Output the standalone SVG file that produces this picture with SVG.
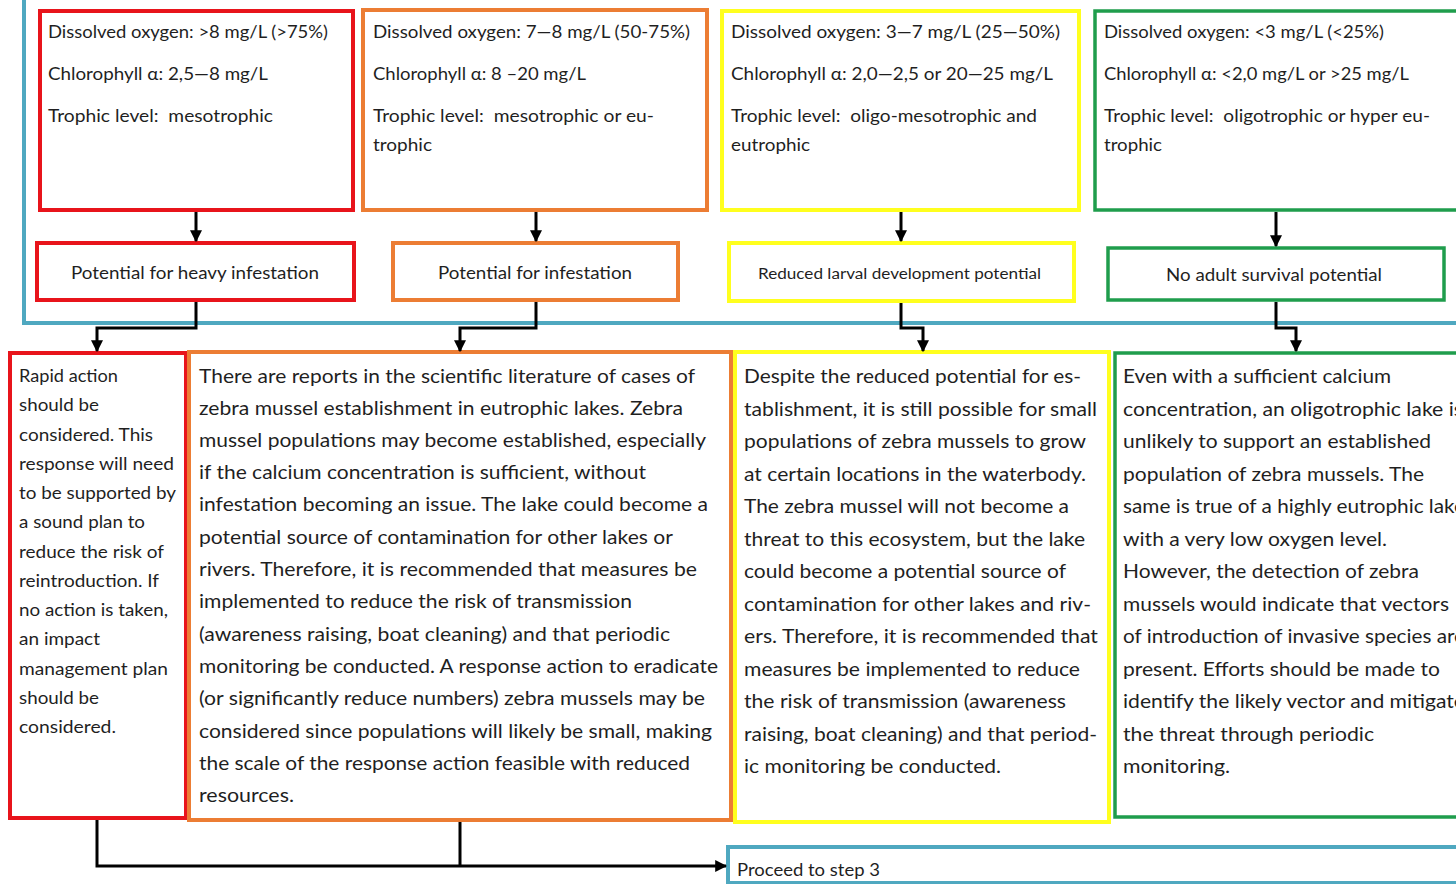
<svg xmlns="http://www.w3.org/2000/svg" width="1456" height="884" viewBox="0 0 1456 884">
<style>
text{font-family:Lato,"Liberation Sans",sans-serif;fill:#1f1f1f}
.t{font-size:16.5px}
.b{font-size:20px}
.s{font-size:17px}
.box{fill:#fff;stroke-width:4}
.red{stroke:#e8141b}
.org{stroke:#ec7d34}
.yel{stroke:#ffff1e}
.grn{stroke:#1f9d4c;stroke-width:3.5}
.blu{fill:none;stroke:#4fa8c0;stroke-width:4}
.con{fill:none;stroke:#000;stroke-width:3}
.c{text-anchor:middle}
</style>
<defs>
<marker id="ah" viewBox="0 0 10 10" refX="9" refY="5" markerWidth="4" markerHeight="4" markerUnits="strokeWidth" orient="auto">
<path d="M0,0 L10,5 L0,10 z" fill="#000"/>
</marker>
</defs>
<rect id="frame" class="blu" x="24" y="-10" width="1460" height="333"/>

<g id="top-red"><rect class="box red" x="40" y="11" width="313" height="199"/>
<text class="t" x="48" y="38" textLength="280" lengthAdjust="spacingAndGlyphs">Dissolved oxygen: &gt;8 mg/L (&gt;75%)</text>
<text class="t" x="48" y="80" textLength="220" lengthAdjust="spacingAndGlyphs">Chlorophyll α: 2,5—8 mg/L</text>
<text class="t" x="48" y="122" textLength="225" lengthAdjust="spacingAndGlyphs">Trophic level: &#160;mesotrophic</text></g>

<g id="top-orange"><rect class="box org" x="363" y="10" width="344" height="200"/>
<text class="t" x="373" y="38" textLength="317" lengthAdjust="spacingAndGlyphs">Dissolved oxygen: 7—8 mg/L (50-75%)</text>
<text class="t" x="373" y="80" textLength="213" lengthAdjust="spacingAndGlyphs">Chlorophyll α: 8 –20 mg/L</text>
<text class="t" x="373" y="122" textLength="281" lengthAdjust="spacingAndGlyphs">Trophic level: &#160;mesotrophic or eu-</text>
<text class="t" x="373" y="151" textLength="59" lengthAdjust="spacingAndGlyphs">trophic</text></g>

<g id="top-yellow"><rect class="box yel" x="722" y="11" width="357" height="199"/>
<text class="t" x="731" y="38" textLength="329" lengthAdjust="spacingAndGlyphs">Dissolved oxygen: 3—7 mg/L (25—50%)</text>
<text class="t" x="731" y="80" textLength="322" lengthAdjust="spacingAndGlyphs">Chlorophyll α: 2,0—2,5 or 20—25 mg/L</text>
<text class="t" x="731" y="122" textLength="306" lengthAdjust="spacingAndGlyphs">Trophic level: &#160;oligo-mesotrophic and</text>
<text class="t" x="731" y="151" textLength="79" lengthAdjust="spacingAndGlyphs">eutrophic</text></g>

<g id="top-green"><rect class="box grn" x="1095" y="11" width="370" height="199"/>
<text class="t" x="1104" y="38" textLength="280" lengthAdjust="spacingAndGlyphs">Dissolved oxygen: &lt;3 mg/L (&lt;25%)</text>
<text class="t" x="1104" y="80" textLength="305" lengthAdjust="spacingAndGlyphs">Chlorophyll α: &lt;2,0 mg/L or &gt;25 mg/L</text>
<text class="t" x="1104" y="122" textLength="326" lengthAdjust="spacingAndGlyphs">Trophic level: &#160;oligotrophic or hyper eu-</text>
<text class="t" x="1104" y="151" textLength="58" lengthAdjust="spacingAndGlyphs">trophic</text></g>

<g id="mid-red"><rect class="box red" x="37" y="243" width="317" height="57"/>
<text class="t" x="71" y="279" textLength="248" lengthAdjust="spacingAndGlyphs">Potential for heavy infestation</text></g>
<g id="mid-orange"><rect class="box org" x="393" y="243" width="285" height="57"/>
<text class="t" x="438" y="279" textLength="194" lengthAdjust="spacingAndGlyphs">Potential for infestation</text></g>
<g id="mid-yellow"><rect class="box yel" x="729" y="243" width="345" height="58"/>
<text class="t" x="758" y="279" style="font-size:15.5px" textLength="283" lengthAdjust="spacingAndGlyphs">Reduced larval development potential</text></g>
<g id="mid-green"><rect class="box grn" x="1108" y="248" width="336" height="52"/>
<text class="t" x="1166" y="281" textLength="216" lengthAdjust="spacingAndGlyphs">No adult survival potential</text></g>

<g id="bot-red"><rect class="box red" x="10" y="353" width="176" height="465"/>
<text class="s" x="19" y="382" textLength="99" lengthAdjust="spacingAndGlyphs">Rapid action</text>
<text class="s" x="19" y="411" textLength="80" lengthAdjust="spacingAndGlyphs">should be</text>
<text class="s" x="19" y="440.5" textLength="134" lengthAdjust="spacingAndGlyphs">considered. This</text>
<text class="s" x="19" y="470" textLength="155" lengthAdjust="spacingAndGlyphs">response will need</text>
<text class="s" x="19" y="499" textLength="157" lengthAdjust="spacingAndGlyphs">to be supported by</text>
<text class="s" x="19" y="528" textLength="126" lengthAdjust="spacingAndGlyphs">a sound plan to</text>
<text class="s" x="19" y="557.5" textLength="145" lengthAdjust="spacingAndGlyphs">reduce the risk of</text>
<text class="s" x="19" y="587" textLength="140" lengthAdjust="spacingAndGlyphs">reintroduction. If</text>
<text class="s" x="19" y="616" textLength="149" lengthAdjust="spacingAndGlyphs">no action is taken,</text>
<text class="s" x="19" y="645" textLength="81" lengthAdjust="spacingAndGlyphs">an impact</text>
<text class="s" x="19" y="674.5" textLength="149" lengthAdjust="spacingAndGlyphs">management plan</text>
<text class="s" x="19" y="704" textLength="80" lengthAdjust="spacingAndGlyphs">should be</text>
<text class="s" x="19" y="733" textLength="97" lengthAdjust="spacingAndGlyphs">considered.</text></g>

<g id="bot-orange"><rect class="box org" x="189" y="352" width="542" height="468"/>
<text class="b" x="199" y="383" textLength="496" lengthAdjust="spacingAndGlyphs">There are reports in the scientific literature of cases of</text>
<text class="b" x="199" y="415" textLength="484" lengthAdjust="spacingAndGlyphs">zebra mussel establishment in eutrophic lakes. Zebra</text>
<text class="b" x="199" y="447" textLength="507" lengthAdjust="spacingAndGlyphs">mussel populations may become established, especially</text>
<text class="b" x="199" y="479" textLength="447" lengthAdjust="spacingAndGlyphs">if the calcium concentration is sufficient, without</text>
<text class="b" x="199" y="511" textLength="509" lengthAdjust="spacingAndGlyphs">infestation becoming an issue. The lake could become a</text>
<text class="b" x="199" y="544" textLength="474" lengthAdjust="spacingAndGlyphs">potential source of contamination for other lakes or</text>
<text class="b" x="199" y="576" textLength="498" lengthAdjust="spacingAndGlyphs">rivers. Therefore, it is recommended that measures be</text>
<text class="b" x="199" y="608" textLength="433" lengthAdjust="spacingAndGlyphs">implemented to reduce the risk of transmission</text>
<text class="b" x="199" y="641" textLength="471" lengthAdjust="spacingAndGlyphs">(awareness raising, boat cleaning) and that periodic</text>
<text class="b" x="199" y="673" textLength="519" lengthAdjust="spacingAndGlyphs">monitoring be conducted. A response action to eradicate</text>
<text class="b" x="199" y="705" textLength="506" lengthAdjust="spacingAndGlyphs">(or significantly reduce numbers) zebra mussels may be</text>
<text class="b" x="199" y="738" textLength="513" lengthAdjust="spacingAndGlyphs">considered since populations will likely be small, making</text>
<text class="b" x="199" y="770" textLength="491" lengthAdjust="spacingAndGlyphs">the scale of the response action feasible with reduced</text>
<text class="b" x="199" y="802" textLength="95" lengthAdjust="spacingAndGlyphs">resources.</text></g>

<g id="bot-yellow"><rect class="box yel" x="735" y="352" width="374" height="470"/>
<text class="b" x="744" y="383" textLength="337" lengthAdjust="spacingAndGlyphs">Despite the reduced potential for es-</text>
<text class="b" x="744" y="415.5" textLength="353" lengthAdjust="spacingAndGlyphs">tablishment, it is still possible for small</text>
<text class="b" x="744" y="448" textLength="342" lengthAdjust="spacingAndGlyphs">populations of zebra mussels to grow</text>
<text class="b" x="744" y="480.5" textLength="342" lengthAdjust="spacingAndGlyphs">at certain locations in the waterbody.</text>
<text class="b" x="744" y="513" textLength="325" lengthAdjust="spacingAndGlyphs">The zebra mussel will not become a</text>
<text class="b" x="744" y="545.5" textLength="341" lengthAdjust="spacingAndGlyphs">threat to this ecosystem, but the lake</text>
<text class="b" x="744" y="578" textLength="322" lengthAdjust="spacingAndGlyphs">could become a potential source of</text>
<text class="b" x="744" y="610.5" textLength="347" lengthAdjust="spacingAndGlyphs">contamination for other lakes and riv-</text>
<text class="b" x="744" y="643" textLength="354" lengthAdjust="spacingAndGlyphs">ers. Therefore, it is recommended that</text>
<text class="b" x="744" y="675.5" textLength="336" lengthAdjust="spacingAndGlyphs">measures be implemented to reduce</text>
<text class="b" x="744" y="708" textLength="322" lengthAdjust="spacingAndGlyphs">the risk of transmission (awareness</text>
<text class="b" x="744" y="740.5" textLength="353" lengthAdjust="spacingAndGlyphs">raising, boat cleaning) and that period-</text>
<text class="b" x="744" y="773" textLength="257" lengthAdjust="spacingAndGlyphs">ic monitoring be conducted.</text></g>

<g id="bot-green"><rect class="box grn" x="1115" y="353" width="360" height="464"/>
<text class="b" x="1123" y="383" textLength="268" lengthAdjust="spacingAndGlyphs">Even with a sufficient calcium</text>
<text class="b" x="1123" y="415.5" textLength="340" lengthAdjust="spacingAndGlyphs">concentration, an oligotrophic lake is</text>
<text class="b" x="1123" y="448" textLength="308" lengthAdjust="spacingAndGlyphs">unlikely to support an established</text>
<text class="b" x="1123" y="480.5" textLength="301" lengthAdjust="spacingAndGlyphs">population of zebra mussels. The</text>
<text class="b" x="1123" y="513" textLength="342" lengthAdjust="spacingAndGlyphs">same is true of a highly eutrophic lake</text>
<text class="b" x="1123" y="545.5" textLength="264" lengthAdjust="spacingAndGlyphs">with a very low oxygen level.</text>
<text class="b" x="1123" y="578" textLength="296" lengthAdjust="spacingAndGlyphs">However, the detection of zebra</text>
<text class="b" x="1123" y="610.5" textLength="326" lengthAdjust="spacingAndGlyphs">mussels would indicate that vectors</text>
<text class="b" x="1123" y="643" textLength="342" lengthAdjust="spacingAndGlyphs">of introduction of invasive species are</text>
<text class="b" x="1123" y="675.5" textLength="317" lengthAdjust="spacingAndGlyphs">present. Efforts should be made to</text>
<text class="b" x="1123" y="708" textLength="342" lengthAdjust="spacingAndGlyphs">identify the likely vector and mitigate</text>
<text class="b" x="1123" y="740.5" textLength="251" lengthAdjust="spacingAndGlyphs">the threat through periodic</text>
<text class="b" x="1123" y="773" textLength="107" lengthAdjust="spacingAndGlyphs">monitoring.</text></g>

<g id="proceed"><rect class="blu" x="728" y="847" width="740" height="36" style="fill:#fff"/>
<text class="t" x="737" y="876" textLength="143" lengthAdjust="spacingAndGlyphs">Proceed to step 3</text></g>

<g id="connectors">
<path class="con" marker-end="url(#ah)" d="M196,212 V241"/>
<path class="con" marker-end="url(#ah)" d="M536,212 V241"/>
<path class="con" marker-end="url(#ah)" d="M901,212 V241"/>
<path class="con" marker-end="url(#ah)" d="M1276,212 V246"/>
<path class="con" marker-end="url(#ah)" d="M196,302 V328 H97 V351"/>
<path class="con" marker-end="url(#ah)" d="M536,302 V328 H460 V351"/>
<path class="con" marker-end="url(#ah)" d="M901,303 V328 H923 V351"/>
<path class="con" marker-end="url(#ah)" d="M1276,302 V328 H1296 V351"/>
<path class="con" marker-end="url(#ah)" d="M97,820 V866 H726"/>
<path class="con" d="M460,822 V866"/>
</g>
</svg>
